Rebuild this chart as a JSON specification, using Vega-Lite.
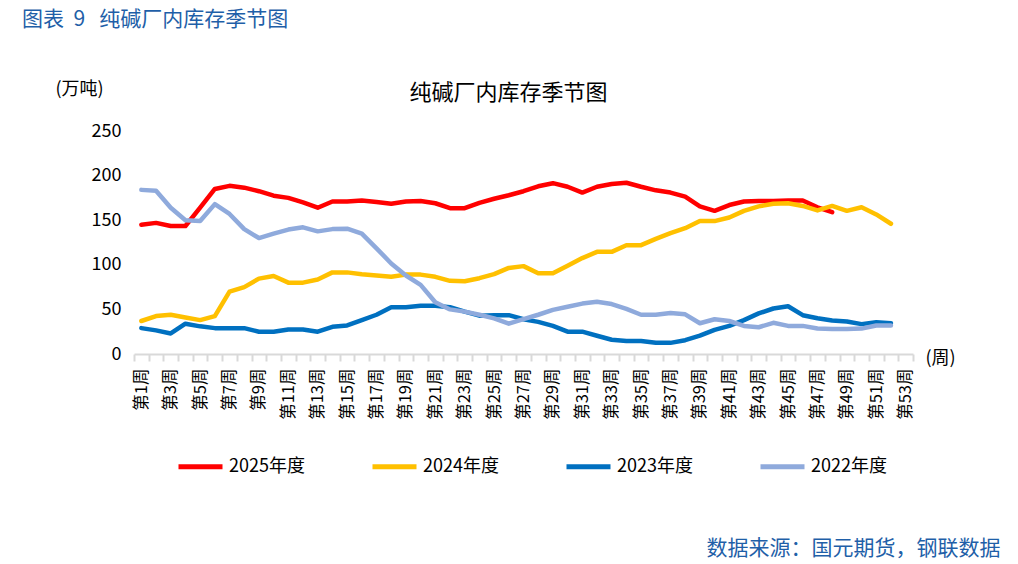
{
  "$schema": "https://vega.github.io/schema/vega-lite/v6.json",
  "autosize": {"type": "none"},
  "width": 779,
  "height": 223,
  "padding": {"left": 134, "top": 131, "right": 105, "bottom": 210},
  "background": "white",
  "title": {
    "text": "图表\u00a0\u00a09\u00a0\u00a0\u00a0纯碱厂内库存季节图",
    "anchor": "start",
    "frame": "bounds",
    "font": "Noto Sans CJK SC",
    "fontSize": 21,
    "fontWeight": "normal",
    "color": "#1F5FA8",
    "dx": -33,
    "offset": 50
  },
  "config": {
    "font": "Noto Sans CJK SC",
    "view": {"stroke": null}
  },
  "data": {
    "values": [
      {"week":1,"series":"2025年度","value":145},{"week":2,"series":"2025年度","value":147},{"week":3,"series":"2025年度","value":143.5},{"week":4,"series":"2025年度","value":143.5},{"week":5,"series":"2025年度","value":164},{"week":6,"series":"2025年度","value":185},{"week":7,"series":"2025年度","value":188.5},{"week":8,"series":"2025年度","value":186.5},{"week":9,"series":"2025年度","value":182.5},{"week":10,"series":"2025年度","value":177.5},{"week":11,"series":"2025年度","value":175},{"week":12,"series":"2025年度","value":170},{"week":13,"series":"2025年度","value":164},{"week":14,"series":"2025年度","value":171},{"week":15,"series":"2025年度","value":171},{"week":16,"series":"2025年度","value":172},{"week":17,"series":"2025年度","value":170.5},{"week":18,"series":"2025年度","value":168.5},{"week":19,"series":"2025年度","value":171},{"week":20,"series":"2025年度","value":171.5},{"week":21,"series":"2025年度","value":169},{"week":22,"series":"2025年度","value":163.5},{"week":23,"series":"2025年度","value":163.5},{"week":24,"series":"2025年度","value":169.5},{"week":25,"series":"2025年度","value":174},{"week":26,"series":"2025年度","value":178},{"week":27,"series":"2025年度","value":182.5},{"week":28,"series":"2025年度","value":188},{"week":29,"series":"2025年度","value":191.5},{"week":30,"series":"2025年度","value":187.5},{"week":31,"series":"2025年度","value":181},{"week":32,"series":"2025年度","value":187.5},{"week":33,"series":"2025年度","value":190.5},{"week":34,"series":"2025年度","value":192},{"week":35,"series":"2025年度","value":187.5},{"week":36,"series":"2025年度","value":183.5},{"week":37,"series":"2025年度","value":181},{"week":38,"series":"2025年度","value":176.5},{"week":39,"series":"2025年度","value":165.5},{"week":40,"series":"2025年度","value":160.5},{"week":41,"series":"2025年度","value":167},{"week":42,"series":"2025年度","value":171},{"week":43,"series":"2025年度","value":171.5},{"week":44,"series":"2025年度","value":171.5},{"week":45,"series":"2025年度","value":172},{"week":46,"series":"2025年度","value":172},{"week":47,"series":"2025年度","value":164.5},{"week":48,"series":"2025年度","value":159},
      {"week":1,"series":"2024年度","value":37},{"week":2,"series":"2024年度","value":42.5},{"week":3,"series":"2024年度","value":44},{"week":4,"series":"2024年度","value":41},{"week":5,"series":"2024年度","value":38},{"week":6,"series":"2024年度","value":42.5},{"week":7,"series":"2024年度","value":70},{"week":8,"series":"2024年度","value":75},{"week":9,"series":"2024年度","value":84.5},{"week":10,"series":"2024年度","value":87.5},{"week":11,"series":"2024年度","value":80},{"week":12,"series":"2024年度","value":80},{"week":13,"series":"2024年度","value":83.5},{"week":14,"series":"2024年度","value":91.5},{"week":15,"series":"2024年度","value":91.5},{"week":16,"series":"2024年度","value":89.5},{"week":17,"series":"2024年度","value":88},{"week":18,"series":"2024年度","value":86.5},{"week":19,"series":"2024年度","value":89},{"week":20,"series":"2024年度","value":89},{"week":21,"series":"2024年度","value":86.5},{"week":22,"series":"2024年度","value":82},{"week":23,"series":"2024年度","value":81.5},{"week":24,"series":"2024年度","value":85},{"week":25,"series":"2024年度","value":89.5},{"week":26,"series":"2024年度","value":96.5},{"week":27,"series":"2024年度","value":98.5},{"week":28,"series":"2024年度","value":90.5},{"week":29,"series":"2024年度","value":90.5},{"week":30,"series":"2024年度","value":99},{"week":31,"series":"2024年度","value":107.5},{"week":32,"series":"2024年度","value":114.5},{"week":33,"series":"2024年度","value":114.5},{"week":34,"series":"2024年度","value":122},{"week":35,"series":"2024年度","value":122},{"week":36,"series":"2024年度","value":129},{"week":37,"series":"2024年度","value":135.5},{"week":38,"series":"2024年度","value":141},{"week":39,"series":"2024年度","value":149},{"week":40,"series":"2024年度","value":149},{"week":41,"series":"2024年度","value":153},{"week":42,"series":"2024年度","value":160.5},{"week":43,"series":"2024年度","value":165.5},{"week":44,"series":"2024年度","value":168.5},{"week":45,"series":"2024年度","value":169},{"week":46,"series":"2024年度","value":166},{"week":47,"series":"2024年度","value":161},{"week":48,"series":"2024年度","value":166},{"week":49,"series":"2024年度","value":160.5},{"week":50,"series":"2024年度","value":164.5},{"week":51,"series":"2024年度","value":156.5},{"week":52,"series":"2024年度","value":146},
      {"week":1,"series":"2023年度","value":29},{"week":2,"series":"2023年度","value":26.5},{"week":3,"series":"2023年度","value":23},{"week":4,"series":"2023年度","value":34},{"week":5,"series":"2023年度","value":31},{"week":6,"series":"2023年度","value":29},{"week":7,"series":"2023年度","value":29},{"week":8,"series":"2023年度","value":29},{"week":9,"series":"2023年度","value":25},{"week":10,"series":"2023年度","value":25},{"week":11,"series":"2023年度","value":27.5},{"week":12,"series":"2023年度","value":27.5},{"week":13,"series":"2023年度","value":25},{"week":14,"series":"2023年度","value":30.5},{"week":15,"series":"2023年度","value":32},{"week":16,"series":"2023年度","value":38},{"week":17,"series":"2023年度","value":44},{"week":18,"series":"2023年度","value":52.5},{"week":19,"series":"2023年度","value":52.5},{"week":20,"series":"2023年度","value":54},{"week":21,"series":"2023年度","value":54},{"week":22,"series":"2023年度","value":52.5},{"week":23,"series":"2023年度","value":47.5},{"week":24,"series":"2023年度","value":43},{"week":25,"series":"2023年度","value":43.5},{"week":26,"series":"2023年度","value":43.5},{"week":27,"series":"2023年度","value":39},{"week":28,"series":"2023年度","value":36},{"week":29,"series":"2023年度","value":31.5},{"week":30,"series":"2023年度","value":25},{"week":31,"series":"2023年度","value":25},{"week":32,"series":"2023年度","value":20.5},{"week":33,"series":"2023年度","value":16},{"week":34,"series":"2023年度","value":14.5},{"week":35,"series":"2023年度","value":14.5},{"week":36,"series":"2023年度","value":12.5},{"week":37,"series":"2023年度","value":12.5},{"week":38,"series":"2023年度","value":15.5},{"week":39,"series":"2023年度","value":20.5},{"week":40,"series":"2023年度","value":27},{"week":41,"series":"2023年度","value":31.5},{"week":42,"series":"2023年度","value":38},{"week":43,"series":"2023年度","value":45.5},{"week":44,"series":"2023年度","value":51},{"week":45,"series":"2023年度","value":53.5},{"week":46,"series":"2023年度","value":43.5},{"week":47,"series":"2023年度","value":40},{"week":48,"series":"2023年度","value":37.5},{"week":49,"series":"2023年度","value":36.5},{"week":50,"series":"2023年度","value":33.5},{"week":51,"series":"2023年度","value":35.5},{"week":52,"series":"2023年度","value":34.5},
      {"week":1,"series":"2022年度","value":184},{"week":2,"series":"2022年度","value":183},{"week":3,"series":"2022年度","value":164},{"week":4,"series":"2022年度","value":150},{"week":5,"series":"2022年度","value":149},{"week":6,"series":"2022年度","value":168},{"week":7,"series":"2022年度","value":157},{"week":8,"series":"2022年度","value":140},{"week":9,"series":"2022年度","value":130},{"week":10,"series":"2022年度","value":135},{"week":11,"series":"2022年度","value":139.5},{"week":12,"series":"2022年度","value":142},{"week":13,"series":"2022年度","value":137.5},{"week":14,"series":"2022年度","value":140},{"week":15,"series":"2022年度","value":140.5},{"week":16,"series":"2022年度","value":135},{"week":17,"series":"2022年度","value":118.5},{"week":18,"series":"2022年度","value":101.5},{"week":19,"series":"2022年度","value":88},{"week":20,"series":"2022年度","value":77.5},{"week":21,"series":"2022年度","value":58},{"week":22,"series":"2022年度","value":50},{"week":23,"series":"2022年度","value":47.5},{"week":24,"series":"2022年度","value":44},{"week":25,"series":"2022年度","value":40},{"week":26,"series":"2022年度","value":34},{"week":27,"series":"2022年度","value":39},{"week":28,"series":"2022年度","value":44},{"week":29,"series":"2022年度","value":49.5},{"week":30,"series":"2022年度","value":53},{"week":31,"series":"2022年度","value":56.5},{"week":32,"series":"2022年度","value":58.5},{"week":33,"series":"2022年度","value":56},{"week":34,"series":"2022年度","value":50.5},{"week":35,"series":"2022年度","value":44},{"week":36,"series":"2022年度","value":44},{"week":37,"series":"2022年度","value":46},{"week":38,"series":"2022年度","value":44.5},{"week":39,"series":"2022年度","value":34.5},{"week":40,"series":"2022年度","value":39},{"week":41,"series":"2022年度","value":37},{"week":42,"series":"2022年度","value":31.5},{"week":43,"series":"2022年度","value":30},{"week":44,"series":"2022年度","value":35},{"week":45,"series":"2022年度","value":31.5},{"week":46,"series":"2022年度","value":31.5},{"week":47,"series":"2022年度","value":28.5},{"week":48,"series":"2022年度","value":28},{"week":49,"series":"2022年度","value":28},{"week":50,"series":"2022年度","value":28.5},{"week":51,"series":"2022年度","value":32},{"week":52,"series":"2022年度","value":32}
    ]
  },
  "resolve": {"axis": {"x": "independent", "y": "independent"}},
  "layer": [
    {
      "mark": {"type": "line", "strokeWidth": 4.5, "strokeJoin": "round", "strokeCap": "round"},
      "encoding": {
        "x": {
          "field": "week",
          "type": "ordinal",
          "bandPosition": 0.5,
          "scale": {
            "type": "band",
            "paddingInner": 0,
            "paddingOuter": 0,
            "domain": [1,2,3,4,5,6,7,8,9,10,11,12,13,14,15,16,17,18,19,20,21,22,23,24,25,26,27,28,29,30,31,32,33,34,35,36,37,38,39,40,41,42,43,44,45,46,47,48,49,50,51,52,53]
          },
          "axis": {
            "orient": "bottom",
            "title": "(周)",
            "titleX": 791,
            "titleY": 4,
            "titleAlign": "left",
            "titleBaseline": "middle",
            "titleAngle": 0,
            "titleFontSize": 18,
            "titleFontWeight": "normal",
            "titleColor": "#000000",
            "domainColor": "#D9D9D9",
            "domainWidth": 2,
            "tickColor": "#D9D9D9",
            "tickWidth": 2,
            "tickSize": 7,
            "tickBand": "extent",
            "grid": false,
            "labelAngle": -90,
            "labelAlign": "right",
            "labelBaseline": "middle",
            "labelPadding": 7,
            "labelFontSize": 16.5,
            "labelColor": "#000000",
            "labelOverlap": false,
            "labelExpr": "datum.value % 2 == 1 ? '第' + datum.value + '周' : ''"
          }
        },
        "y": {
          "field": "value",
          "type": "quantitative",
          "scale": {"domain": [0, 250], "nice": false},
          "axis": {
            "orient": "left",
            "values": [0, 50, 100, 150, 200, 250],
            "title": "(万吨)",
            "titleX": -79,
            "titleY": -42,
            "titleAlign": "left",
            "titleBaseline": "middle",
            "titleAngle": 0,
            "titleFontSize": 18,
            "titleFontWeight": "normal",
            "titleColor": "#000000",
            "domain": false,
            "ticks": false,
            "grid": false,
            "labelPadding": 13,
            "labelFontSize": 18,
            "labelColor": "#000000"
          }
        },
        "color": {
          "field": "series",
          "type": "nominal",
          "sort": ["2025年度", "2024年度", "2023年度", "2022年度"],
          "scale": {
            "domain": ["2025年度", "2024年度", "2023年度", "2022年度"],
            "range": ["#FF0000", "#FFC000", "#0070C0", "#8FAADC"]
          },
          "legend": {
            "orient": "none",
            "legendX": 42,
            "legendY": 311,
            "direction": "horizontal",
            "columns": 4,
            "title": null,
            "padding": 0,
            "symbolType": "stroke",
            "symbolSize": 1936,
            "symbolStrokeWidth": 5,
            "labelFontSize": 18,
            "labelColor": "#000000",
            "labelOffset": 4,
            "columnPadding": 57
          }
        }
      }
    },
    {
      "transform": [{"filter": "datum.week > 100"}],
      "mark": {"type": "line"},
      "encoding": {
        "x": {
          "field": "week",
          "type": "ordinal",
          "bandPosition": 0.5,
          "axis": {
            "orient": "top",
            "title": "纯碱厂内库存季节图",
            "titleX": 374,
            "titleY": -39,
            "titleAlign": "center",
            "titleBaseline": "middle",
            "titleAngle": 0,
            "titleFontSize": 22,
            "titleFontWeight": "normal",
            "titleColor": "#000000",
            "domain": false,
            "ticks": false,
            "labels": false,
            "grid": false
          }
        },
        "y": {
          "field": "value",
          "type": "quantitative",
          "axis": {
            "orient": "right",
            "title": "数据来源：国元期货，钢联数据",
            "titleX": 87,
            "titleY": 417,
            "titleAlign": "right",
            "titleBaseline": "middle",
            "titleAngle": 0,
            "titleFontSize": 21,
            "titleFontWeight": "normal",
            "titleColor": "#1F5FA8",
            "domain": false,
            "ticks": false,
            "labels": false,
            "grid": false
          }
        }
      }
    }
  ]
}
